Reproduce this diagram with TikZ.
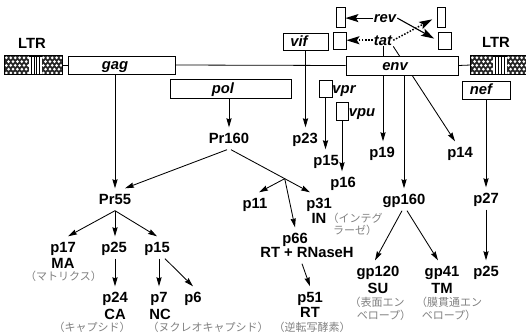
\documentclass[tikz,border=0pt]{standalone}
\usepackage{fontspec}
\setmainfont{Liberation Sans}
\newfontfamily\jpfont{Noto Sans CJK JP}
\usetikzlibrary{arrows.meta,calc}
\pgfdeclarelayer{bg}
\pgfsetlayers{bg,main}
\begin{document}
\begin{tikzpicture}[x=1pt,y=-1pt,
  prot/.style={font=\fontsize{14.8}{16}\selectfont\bfseries, text height=12pt, text depth=3pt, inner sep=3.5pt, anchor=base},
  jp/.style={font=\fontsize{11}{12}\selectfont\jpfont, text=black!50, inner sep=0.5pt, anchor=base},
  gene/.style={font=\fontsize{14.8}{16}\selectfont\bfseries\itshape, inner sep=1pt, anchor=base},
  genebox/.style={draw, fill=white, line width=0.8pt, inner sep=0pt},
  conn/.style={line width=0.85pt, -{Stealth[length=9pt,width=5.2pt,inset=1pt]}},
  backbone/.style={line width=0.8pt},
  revarr/.style={line width=1.1pt, -{Stealth[length=13pt,width=8pt,inset=2.5pt]}},
  dotline/.style={line width=1.5pt, dash pattern=on 1.5pt off 1.6pt},
]
\useasboundingbox (0,0) rectangle (526,335);

% ---- LTR blocks ----
\node[genebox, minimum width=57, minimum height=18] (ltrL) at (33.5,65) {};
\node[genebox, minimum width=59, minimum height=18] (ltrR) at (500.5,65) {};
\foreach \a/\b in {5/29, 42/62, 471/493, 507/530} {
  \begin{scope}
    \clip (\a,56) rectangle (\b,74);
    \fill[black!85] (\a,56) rectangle (\b,74);
    \foreach \r in {0,...,4} {
      \foreach \c in {0,...,7} {
        \fill[white] ({\a+1.4+\c*4.4+mod(\r,2)*2.2},{57.8+\r*3.8}) circle (1.5pt);
      }
    }
  \end{scope}
}
\foreach \a/\b in {29/42, 493/507} {
  \foreach \k in {1,...,4} {
    \draw[line width=0.7pt] ({\a+\k*(\b-\a)/5},56) -- ({\a+\k*(\b-\a)/5},74);
  }
}
\draw[line width=0.8pt] (ltrL.north west) rectangle (ltrL.south east);
\draw[line width=0.8pt] (ltrR.north west) rectangle (ltrR.south east);
\node[prot, inner sep=1pt] (ltrLt) at (32,48) {LTR};
\node[prot, inner sep=1pt] (ltrRt) at (496,47) {LTR};

% ---- gene boxes ----
\node[genebox, minimum width=107, minimum height=18] (gag) at (121.5,65) {};
\node[gene] (gagt) at (115,69.5) {gag};
\node[genebox, minimum width=121, minimum height=19] (pol) at (230.5,88.5) {};
\node[gene] (polt) at (223,93) {pol};
\node[genebox, minimum width=45, minimum height=17] (vif) at (305.5,41.5) {};
\node[gene] (vift) at (299,46) {vif};
\node[genebox, minimum width=112, minimum height=19] (env) at (402,65.5) {};
\node[gene] (envt) at (395,70) {env};
\node[genebox, minimum width=48, minimum height=18] (nef) at (486,90) {};
\node[gene] (neft) at (481,94.5) {nef};
\node[genebox, minimum width=13, minimum height=17] (vpr) at (325.5,88.5) {};
\node[gene] (vprt) at (344,93) {vpr};
\node[genebox, minimum width=12, minimum height=18] (vpu) at (342,111) {};
\node[gene] (vput) at (362,116) {vpu};

% rev / tat exons
\node[genebox, minimum width=9, minimum height=20] (revL) at (340.5,17) {};
\node[genebox, minimum width=13, minimum height=17] (tatL) at (339.5,40.5) {};
\node[genebox, minimum width=8, minimum height=20] (revR) at (441,17) {};
\node[genebox, minimum width=13, minimum height=17] (tatR) at (444.5,40.5) {};
\node[gene] (rev) at (385,22) {rev};
\node[gene] (tat) at (383,45) {tat};

% ---- proteins ----
\node[prot] (Pr160) at (229,143) {Pr160};
\node[prot] (Pr55) at (115,204) {Pr55};
\node[prot] (p23) at (305,143) {p23};
\node[prot] (p15b) at (326,165) {p15};
\node[prot] (p16) at (343,187) {p16};
\node[prot] (p19) at (382,157) {p19};
\node[prot] (p14) at (460,157) {p14};
\node[prot] (gp160) at (404,204) {gp160};
\node[prot] (p27) at (486,203) {p27};
\node[prot] (p11) at (255,208) {p11};
\node[prot] (p31) at (319,208) {p31};
\node[prot] (IN) at (319,223) {IN};
\node[prot] (p66) at (295,243) {p66};
\node[prot] (rt66) at (307,257) {RT + RNaseH};
\node[prot] (p51) at (310,302) {p51};
\node[prot] (rt51) at (310,317) {RT};
\node[prot] (gp120) at (378,276) {gp120};
\node[prot] (su) at (378,293) {SU};
\node[prot] (gp41) at (442,276) {gp41};
\node[prot] (tm) at (442,293) {TM};
\node[prot] (p25r) at (486,276) {p25};
\node[prot] (p17) at (63,252) {p17};
\node[prot] (ma) at (63,268) {MA};
\node[prot] (p25) at (114,252) {p25};
\node[prot] (p15) at (157,252) {p15};
\node[prot] (p24) at (115,302) {p24};
\node[prot] (ca) at (115,319) {CA};
\node[prot] (p7) at (159,302) {p7};
\node[prot] (nc) at (160,319) {NC};
\node[prot] (p6) at (193,302) {p6};

% ---- Japanese notes ----
\node[jp] (jpMA) at (63.5,280) {（マトリクス）};
\node[jp] (jpCA) at (92,331) {（キャプシド）};
\node[jp] (jpNC) at (208,331) {（ヌクレオキャプシド）};
\node[jp] (jpRT) at (312,331) {（逆転写酵素）};
\node[jp, anchor=base west] (jpIN1) at (327,222) {（インテグ};
\node[jp] (jpIN2) at (355,234) {ラーゼ）};
\node[jp] (jpSU1) at (377,306) {（表面エン};
\node[jp] (jpSU2) at (384,319) {ベロープ）};
\node[jp] (jpTM1) at (449,306) {（膜貫通エン};
\node[jp] (jpTM2) at (449,319) {ベロープ）};

% ---- connectors ----
\begin{pgfonlayer}{bg}
\draw[backbone] (ltrL.east) -- (gag.west);
\draw[backbone] (gag.east) -- (env.west);
\draw[backbone] (env.east) -- (ltrR.west);

\draw[conn] (Pr55.north |- gag.south) -- (Pr55.north);
\draw[conn] (Pr160.north |- pol.south) -- (Pr160.north);
\draw[conn] ([xshift=-2pt]Pr160.south) -- ([xshift=10pt]Pr55.north);
\draw[conn] ([xshift=2pt]Pr160.south) -- coordinate[pos=0.68] (split) ([xshift=-9pt]p31.north);
\draw[conn] (split) -- ([xshift=4pt]p11.north);
\draw[conn] (split) -- (p66.north);
\draw[conn] ([xshift=-5pt]rt66.south) -- (p51.north);

\draw[conn] (vif.south) -- (vif.south |- p23.north);
\draw[conn] (vpr.south) -- (vpr.south |- p15b.north);
\draw[conn] (vpu.south) -- (vpu.south |- p16.north);
\draw[conn] (tat.south) -- (tat.south |- p19.north);
\draw[conn] (tat.south east) -- ([xshift=-5pt]p14.north);
\draw[conn] (gp160.north |- env.south) -- (gp160.north);
\draw[conn] (nef.south) -- (nef.south |- p27.north);
\draw[conn] (p27.south) -- (p25r.north);
\draw[conn] ([xshift=-2pt]gp160.south) -- ([xshift=-3pt]gp120.north);
\draw[conn] ([xshift=3pt]gp160.south) -- ([xshift=-4pt]gp41.north);

\draw[conn] (Pr55.south) -- ([xshift=5pt]p17.north);
\draw[conn] (Pr55.south) -- (Pr55.south |- p25.north);
\draw[conn] (Pr55.south) -- (p15.north);
\draw[conn] (p24.north |- p25.south) -- (p24.north);
\draw[conn] (p7.north |- p15.south) -- (p7.north);
\draw[conn] ([xshift=8pt]p15.south) -- (p6.north);

\draw[revarr] (rev.west) -- (rev.west -| revL.east);
\draw[revarr, dotline] (tat.west) -- (tat.west -| tatL.east);
\draw[revarr, shorten >=4pt] (rev.east) -- (tatR.west);
\draw[revarr, dotline, shorten >=5pt] (tat.east) -- (revR.west);
\end{pgfonlayer}
\end{tikzpicture}
\end{document}
